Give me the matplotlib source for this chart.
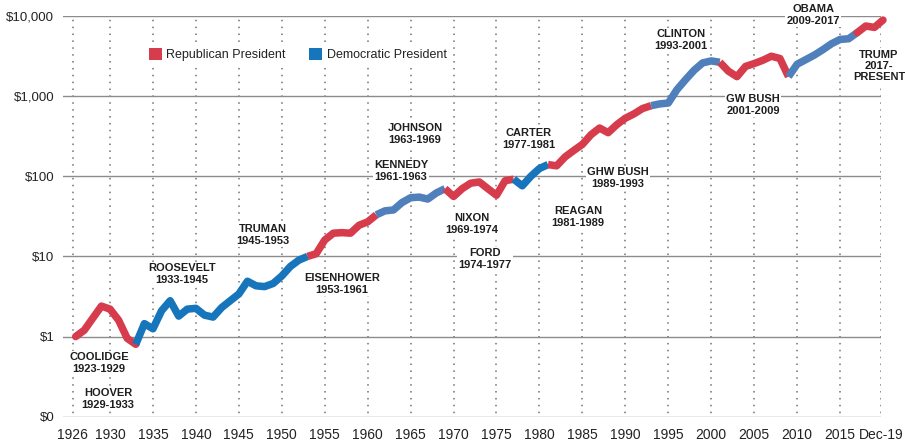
import matplotlib
matplotlib.use("Agg")
import matplotlib.pyplot as plt
from matplotlib.patches import Patch

# growth of $1 (one point per year boundary)
years = list(range(1926, 2021))
values = [1.0, 1.2, 1.7, 2.4, 2.2, 1.6, 0.95, 0.8, 1.45, 1.25,
          2.1, 2.8, 1.8, 2.2, 2.25, 1.85, 1.75, 2.3, 2.8, 3.4,
          4.9, 4.3, 4.2, 4.6, 5.7, 7.5, 9.0, 10.0, 10.8, 16.0,
          19.5, 19.8, 19.5, 24.5, 27.0, 33.0, 37.0, 38.0, 47.0, 54.0,
          55.0, 52.0, 62.0, 70.0, 56.0, 70.0, 82.0, 85.0, 70.0, 58.0,
          88.0, 92.0, 76.0, 100.0, 125.0, 140.0, 135.0, 175.0, 210.0, 250.0,
          330.0, 400.0, 350.0, 440.0, 530.0, 600.0, 700.0, 760.0, 800.0, 820.0,
          1200.0, 1600.0, 2100.0, 2600.0, 2750.0, 2650.0, 2050.0, 1750.0, 2350.0, 2550.0,
          2800.0, 3150.0, 2950.0, 1750.0, 2500.0, 2850.0, 3250.0, 3800.0, 4500.0, 5100.0,
          5200.0, 6200.0, 7500.0, 7200.0, 8900.0]

# party in power, by the year its run of terms starts
run_start = [1926, 1933, 1953, 1961, 1969, 1977, 1981, 1993, 2001, 2009, 2017, 2020]
run_party = ['R', 'D', 'R', 'D', 'R', 'D', 'R', 'D', 'R', 'D', 'R']

presidents = ['COOLIDGE', 'HOOVER', 'ROOSEVELT', 'TRUMAN', 'EISENHOWER', 'KENNEDY',
              'JOHNSON', 'NIXON', 'FORD', 'CARTER', 'REAGAN', 'GHW BUSH',
              'CLINTON', 'GW BUSH', 'OBAMA', 'TRUMP']
terms = ['1923-1929', '1929-1933', '1933-1945', '1945-1953', '1953-1961', '1961-1963',
         '1963-1969', '1969-1974', '1974-1977', '1977-1981', '1981-1989', '1989-1993',
         '1993-2001', '2001-2009', '2009-2017', '2017-\nPRESENT']

y_ticks = [0.1, 1, 10, 100, 1000, 10000]
y_labels = ['$0', '$1', '$10', '$100', '$1,000', '$10,000']
x_labels = ['1926'] + [str(y) for y in range(1930, 2020, 5)] + ['Dec-19']

# styling
red = '#d63c4b'
blue_dark = '#1775bb'
blue_light = '#4f80bc'
run_colors = [red, blue_dark, red, blue_light, red, blue_dark, red,
              blue_light, red, blue_light, red]
# tick spots on the axis (first and last sit a bit off the round years)
x_ticks = [1925.66] + list(range(1930, 2020, 5)) + [2019.77]
# label centres in figure pixels
label_px = [(99, 363), (108, 399), (182, 274), (263, 235), (342, 284), (401, 171),
            (415, 134), (472, 224), (485, 259), (529, 139), (578, 217), (618, 178),
            (681, 40), (753, 105), (813, 15), (879, 66)]

plt.rcParams['font.family'] = ['Liberation Sans', 'DejaVu Sans']

W, H = 905, 442
fig = plt.figure(figsize=(W / 100, H / 100), dpi=100)
ax = fig.add_axes([62.7 / W, 1 - 416.7 / H, (881 - 62.7) / W, (416.7 - 16) / H])

ax.set_yscale('log')
ax.set_ylim(0.1, 10000)
ax.set_xlim(1924.49, 2019.77)

for i, p in enumerate(run_party):
    i0 = years.index(run_start[i])
    i1 = years.index(run_start[i + 1])
    cap = 'round' if i in (0, len(run_party) - 1) else 'butt'
    ax.plot(years[i0:i1 + 1], values[i0:i1 + 1], color=run_colors[i], lw=5.4,
            solid_capstyle=cap, solid_joinstyle='round', zorder=4, clip_on=False)

ax.set_yticks(y_ticks)
ax.set_yticklabels(y_labels)
ax.minorticks_off()
ax.set_xticks(x_ticks)
ax.set_xticklabels(x_labels)
ax.tick_params(axis='y', length=0, pad=6, labelsize=9.5, labelcolor='#222222')
ax.tick_params(axis='x', length=0, pad=8, labelsize=10, labelcolor='#222222')

ax.grid(axis='y', color='#8c8c8c', lw=1.0, ls='-')
ax.grid(axis='x', color='#707070', lw=1.1, ls=(2, (1, 3.5)))
ax.set_axisbelow(True)
for s in ax.spines.values():
    s.set_visible(False)

for name, term, (px, py) in zip(presidents, terms, label_px):
    fig.text(px / W, 1 - py / H, name + '\n' + term, ha='center', va='center',
             fontsize=8, fontweight='bold', color='#1e1e1e', linespacing=1.15,
             zorder=5, bbox=dict(facecolor='white', edgecolor='none', pad=1))

handles = [Patch(facecolor=red, label='Republican President'),
           Patch(facecolor=blue_dark, label='Democratic President')]
leg = ax.legend(handles=handles, ncol=2, loc='center left',
                bbox_to_anchor=(145 / W, 1 - 54.5 / H), bbox_transform=fig.transFigure,
                fontsize=9, handlelength=1.04, handleheight=1.04, handletextpad=0.35,
                columnspacing=1.9, borderpad=0.3, borderaxespad=0, frameon=True,
                fancybox=False, framealpha=1)
leg.get_frame().set_edgecolor('none')
for t in leg.get_texts():
    t.set_color('#222222')

fig.savefig('out.png', dpi=100)
